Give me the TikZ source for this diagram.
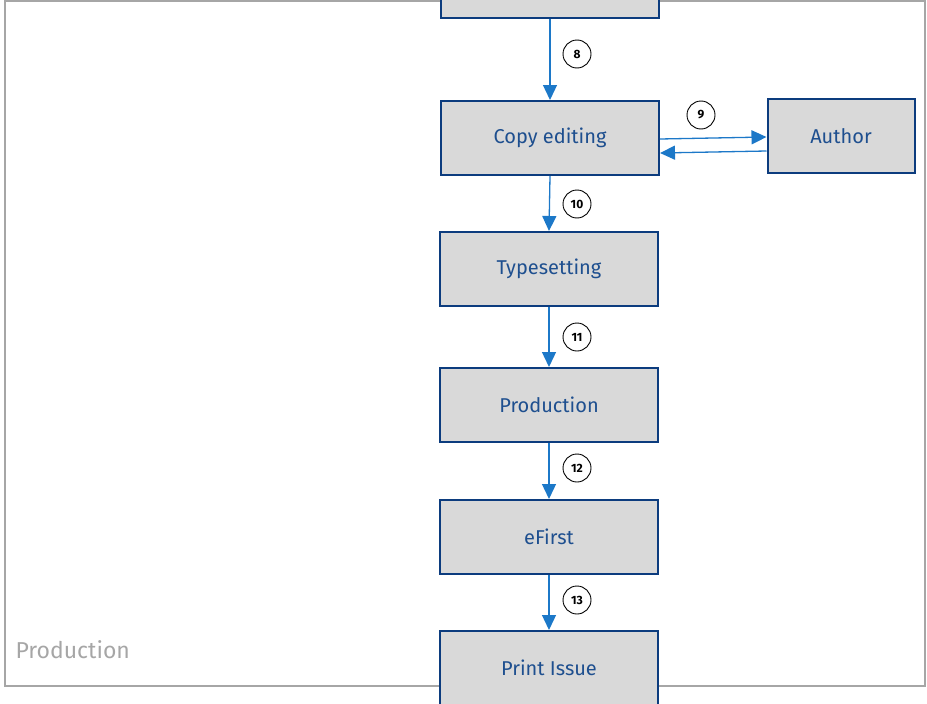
\documentclass[tikz,border=0pt]{standalone}
\usepackage{fontspec}
\setmainfont{Fira Sans}
\usetikzlibrary{arrows.meta}
\definecolor{boxfill}{HTML}{D9D9D9}
\definecolor{boxedge}{HTML}{0C3C7E}
\definecolor{boxtext}{HTML}{1E4F8F}
\definecolor{flow}{HTML}{1C78C8}
\definecolor{frame}{HTML}{A6A6A6}
\tikzset{
  stepbox/.style={draw=boxedge, fill=boxfill, line width=2pt,
    minimum width=218pt, minimum height=74pt, inner sep=0pt,
    text=boxtext, font=\fontsize{20}{24}\selectfont},
  flowarrow/.style={draw=flow, line width=1.3pt,
    -{Triangle[length=15pt,width=14pt]}},
  num/.style={circle, draw=black, line width=0.9pt, fill=white,
    minimum size=28pt, inner sep=0pt,
    font=\fontsize{12}{13}\selectfont\bfseries}
}
\begin{document}
\begin{tikzpicture}[x=1pt,y=-1pt]
  \useasboundingbox (0,0) rectangle (927,704);
  % outer frame of the production stage
  \draw[frame, line width=2pt] (5,1) rectangle (925,686);
  \node[anchor=base west, text=frame, font=\fontsize{23}{26}\selectfont] (stage) at (12,658) {Production};

  % process steps
  \node[stepbox] (prev) at (550,-19) {};
  \node[stepbox] (copy) at (550,138) {\raisebox{-2pt}{Copy editing}};
  \node[stepbox, minimum width=147pt] (author) at (841,136) {\raisebox{-1pt}{Author}};
  \node[stepbox] (type) at (549,269) {\raisebox{-2pt}{Typesetting}};
  \node[stepbox] (prod) at (549,405) {Production};
  \node[stepbox] (efirst) at (549,537) {eFirst};
  \node[stepbox] (print) at (549,668) {Print Issue};

  % flow between steps
  \draw[flowarrow] (prev.south) -- (copy.north);
  \draw[flowarrow] (copy.south) -- (type.north);
  \draw[flowarrow] (type.south) -- (prod.north);
  \draw[flowarrow] (prod.south) -- (efirst.north);
  \draw[flowarrow] (efirst.south) -- (print.north);
  \draw[flowarrow] ([yshift=-1pt]copy.east) -- ([yshift=-1pt]author.west);
  \draw[flowarrow] ([yshift=-15pt]author.west) -- ([yshift=-15pt]copy.east);

  % step numbers
  \node[num] (n8) at (577,54) {8};
  \node[num] (n9) at (701,115) {9};
  \node[num] (n10) at (577,204) {10};
  \node[num] (n11) at (577,337) {11};
  \node[num] (n12) at (577,468) {12};
  \node[num] (n13) at (577,600) {13};
\end{tikzpicture}
\end{document}
